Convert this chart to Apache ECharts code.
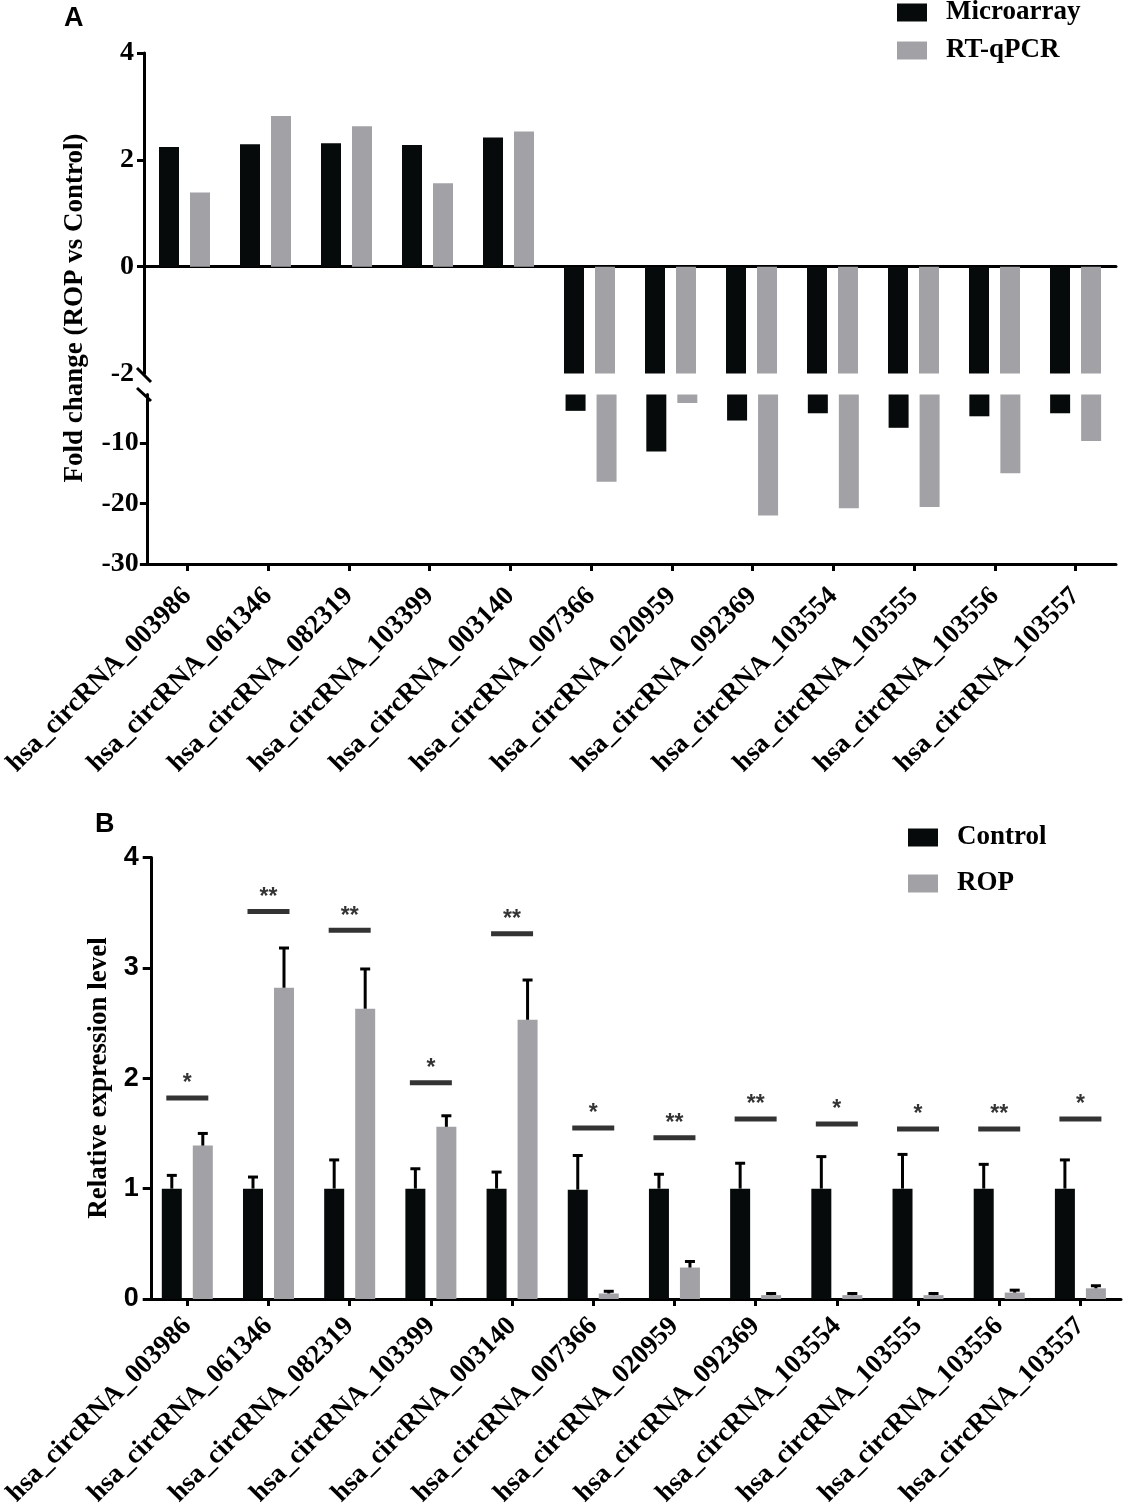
<!DOCTYPE html>
<html>
<head>
<meta charset="utf-8">
<script src="https://cdn.jsdelivr.net/npm/echarts@6/dist/echarts.min.js"></script>
<style>
html,body{margin:0;padding:0;background:#fff}
#main{width:1123px;height:1512px}
</style>
</head>
<body>
<div id="main"></div>
<script>
var circNames = ['hsa_circRNA_003986','hsa_circRNA_061346','hsa_circRNA_082319','hsa_circRNA_103399',
	'hsa_circRNA_003140','hsa_circRNA_007366','hsa_circRNA_020959','hsa_circRNA_092369',
	'hsa_circRNA_103554','hsa_circRNA_103555','hsa_circRNA_103556','hsa_circRNA_103557'];

// panel A, fold change
var microarray = [2.24, 2.29, 2.31, 2.28, 2.42, -4.7, -11.4, -6.3, -5.1, -7.5, -5.6, -5.1];
var rtqpcr = [1.39, 2.82, 2.63, 1.56, 2.53, -16.4, -3.4, -22.0, -20.8, -20.6, -15.0, -9.7];
var upperTicks = [0, 2, 4];
var lowerTicks = [-30, -20, -10];

// panel B, relative expression (mean and top of error bar)
var controlMean = [1, 1, 1, 1, 1, 0.99, 1, 1, 1, 1, 1, 1];
var controlTop = [1.12, 1.105, 1.26, 1.18, 1.15, 1.30, 1.13, 1.23, 1.29, 1.31, 1.22, 1.26];
var ropMean = [1.39, 2.82, 2.63, 1.56, 2.53, 0.05, 0.285, 0.035, 0.035, 0.035, 0.058, 0.097];
var ropTop = [1.50, 3.18, 2.99, 1.66, 2.89, 0.07, 0.34, 0.05, 0.05, 0.05, 0.08, 0.12];
var sigLevel = [1.82, 3.51, 3.34, 1.96, 3.31, 1.55, 1.46, 1.63, 1.585, 1.54, 1.54, 1.63];
var sigMark = ['*','**','**','*','**','*','**','**','*','*','**','*'];

var BLACK = '#070a0a', GREY = '#a2a1a6';
var SERIF = 'Liberation Serif', SANS = 'Liberation Sans';
var barW = 20, gapRatio = 0.55;
var barOffset = (barW + barW * gapRatio) / 2;

var chart = echarts.init(document.getElementById('main'));

function catAxis(grid, showLabels, margin){
	return {
		type: 'category', gridIndex: grid, data: circNames,
		axisLine: {lineStyle: {color: '#000', width: 3}},
		axisTick: {show: showLabels, alignWithLabel: true, length: 7, lineStyle: {color: '#000', width: 3}},
		axisLabel: {show: showLabels, rotate: 45, margin: margin, color: '#000',
			fontFamily: SERIF, fontWeight: 'bold', fontSize: 27},
		splitLine: {show: false}
	};
}

function errorBars(name, means, tops, side){
	return {
		type: 'custom', name: name, xAxisIndex: 2, yAxisIndex: 2, z: 3, silent: true,
		data: means.map(function(m, i){ return [i, m, tops[i]]; }),
		renderItem: function(params, api){
			var base = api.coord([api.value(0), api.value(1)]);
			var top = api.coord([api.value(0), api.value(2)]);
			var x = base[0] + side * barOffset;
			return {type: 'group', children: [
				{type: 'line', shape: {x1: x, y1: base[1], x2: x, y2: top[1]}, style: {stroke: '#000', lineWidth: 3}},
				{type: 'line', shape: {x1: x - 5, y1: top[1], x2: x + 5, y2: top[1]}, style: {stroke: '#000', lineWidth: 3}}
			]};
		}
	};
}

function barSeries(name, data, axis, color){
	return {
		type: 'bar', name: name, xAxisIndex: axis, yAxisIndex: axis, data: data,
		barWidth: barW, barGap: (gapRatio * 100) + '%', clip: true,
		itemStyle: {color: color}, silent: true
	};
}

var legendText = {fontFamily: SERIF, fontWeight: 'bold', fontSize: 27, color: '#000', padding: [0, 0, 0, 14]};

var option = {
	animation: false,
	backgroundColor: '#fff',
	grid: [
		{left: 144, right: 7, top: 53, height: 320.5},
		{left: 144, right: 7, top: 394.5, height: 169.5},
		{left: 145, right: 2, top: 857.5, height: 441.5}
	],
	legend: [
		{data: ['Microarray', 'RT-qPCR'], orient: 'vertical', left: 897, top: -1, padding: 0, icon: 'rect',
			itemWidth: 30, itemHeight: 18, itemGap: 11, textStyle: legendText, selectedMode: false},
		{data: ['Control', 'ROP'], orient: 'vertical', left: 908, top: 824, padding: 0, icon: 'rect',
			itemWidth: 30, itemHeight: 18, itemGap: 19, textStyle: legendText, selectedMode: false}
	],
	xAxis: [catAxis(0, false, 0), catAxis(1, true, 28), catAxis(2, true, 23)],
	yAxis: [
		{type: 'value', gridIndex: 0, min: -2, max: 4, interval: 2,
			axisLine: {show: true, lineStyle: {color: '#000', width: 3}},
			axisTick: {show: true, length: 7, customValues: upperTicks, lineStyle: {color: '#000', width: 3}},
			axisLabel: {color: '#000', fontFamily: SERIF, fontWeight: 'bold', fontSize: 28, margin: 10},
			splitLine: {show: false}},
		{type: 'value', gridIndex: 1, min: -30, max: -2, interval: 10,
			axisLine: {show: true, lineStyle: {color: '#000', width: 3}},
			axisTick: {show: true, length: 7, customValues: lowerTicks, lineStyle: {color: '#000', width: 3}},
			axisLabel: {color: '#000', fontFamily: SERIF, fontWeight: 'bold', fontSize: 28, margin: 8, customValues: lowerTicks},
			splitLine: {show: false}},
		{type: 'value', gridIndex: 2, min: 0, max: 4, interval: 1, offset: -5,
			axisLine: {show: true, lineStyle: {color: '#000', width: 3}},
			axisTick: {show: true, length: 9, lineStyle: {color: '#000', width: 3}},
			axisLabel: {color: '#000', fontFamily: SANS, fontWeight: 'bold', fontSize: 27, margin: 13},
			splitLine: {show: false}}
	],
	series: [
		barSeries('Microarray', microarray, 0, BLACK),
		barSeries('RT-qPCR', rtqpcr, 0, GREY),
		barSeries('Microarray', microarray, 1, BLACK),
		barSeries('RT-qPCR', rtqpcr, 1, GREY),
		barSeries('Control', controlMean, 2, BLACK),
		barSeries('ROP', ropMean, 2, GREY),
		errorBars('controlErr', controlMean, controlTop, -1),
		errorBars('ropErr', ropMean, ropTop, 1),
		{
			type: 'scatter', name: 'sig', xAxisIndex: 2, yAxisIndex: 2, silent: true,
			symbol: 'rect', symbolSize: [42, 5], itemStyle: {color: '#000'},
			data: sigLevel.map(function(v, i){ return {value: [i, v], mark: sigMark[i]}; }),
			label: {show: true, position: 'top', distance: 0, color: '#000',
				fontFamily: SANS, fontWeight: 'bold', fontSize: 23,
				formatter: function(p){ return p.data.mark; }}
		}
	],
	graphic: [
		{type: 'text', left: 64, top: 5, style: {text: 'A', font: 'bold 27px "Liberation Sans"', fill: '#000'}},
		{type: 'text', left: 95, top: 811, style: {text: 'B', font: 'bold 27px "Liberation Sans"', fill: '#000'}},
		{type: 'text', x: 75, y: 308, rotation: Math.PI / 2,
			style: {text: 'Fold change (ROP vs Control)', font: 'bold 27px "Liberation Serif"', fill: '#000',
				textAlign: 'center', textVerticalAlign: 'middle'}},
		{type: 'text', x: 99, y: 1078, rotation: Math.PI / 2,
			style: {text: 'Relative expression level', font: 'bold 27px "Liberation Serif"', fill: '#000',
				textAlign: 'center', textVerticalAlign: 'middle'}},
		// axis break marks
		{type: 'line', shape: {x1: 137, y1: 368, x2: 151, y2: 382}, style: {stroke: '#000', lineWidth: 3}},
		{type: 'line', shape: {x1: 137, y1: 388, x2: 151, y2: 401}, style: {stroke: '#000', lineWidth: 3}}
	]
};

chart.setOption(option);
</script>
</body>
</html>
